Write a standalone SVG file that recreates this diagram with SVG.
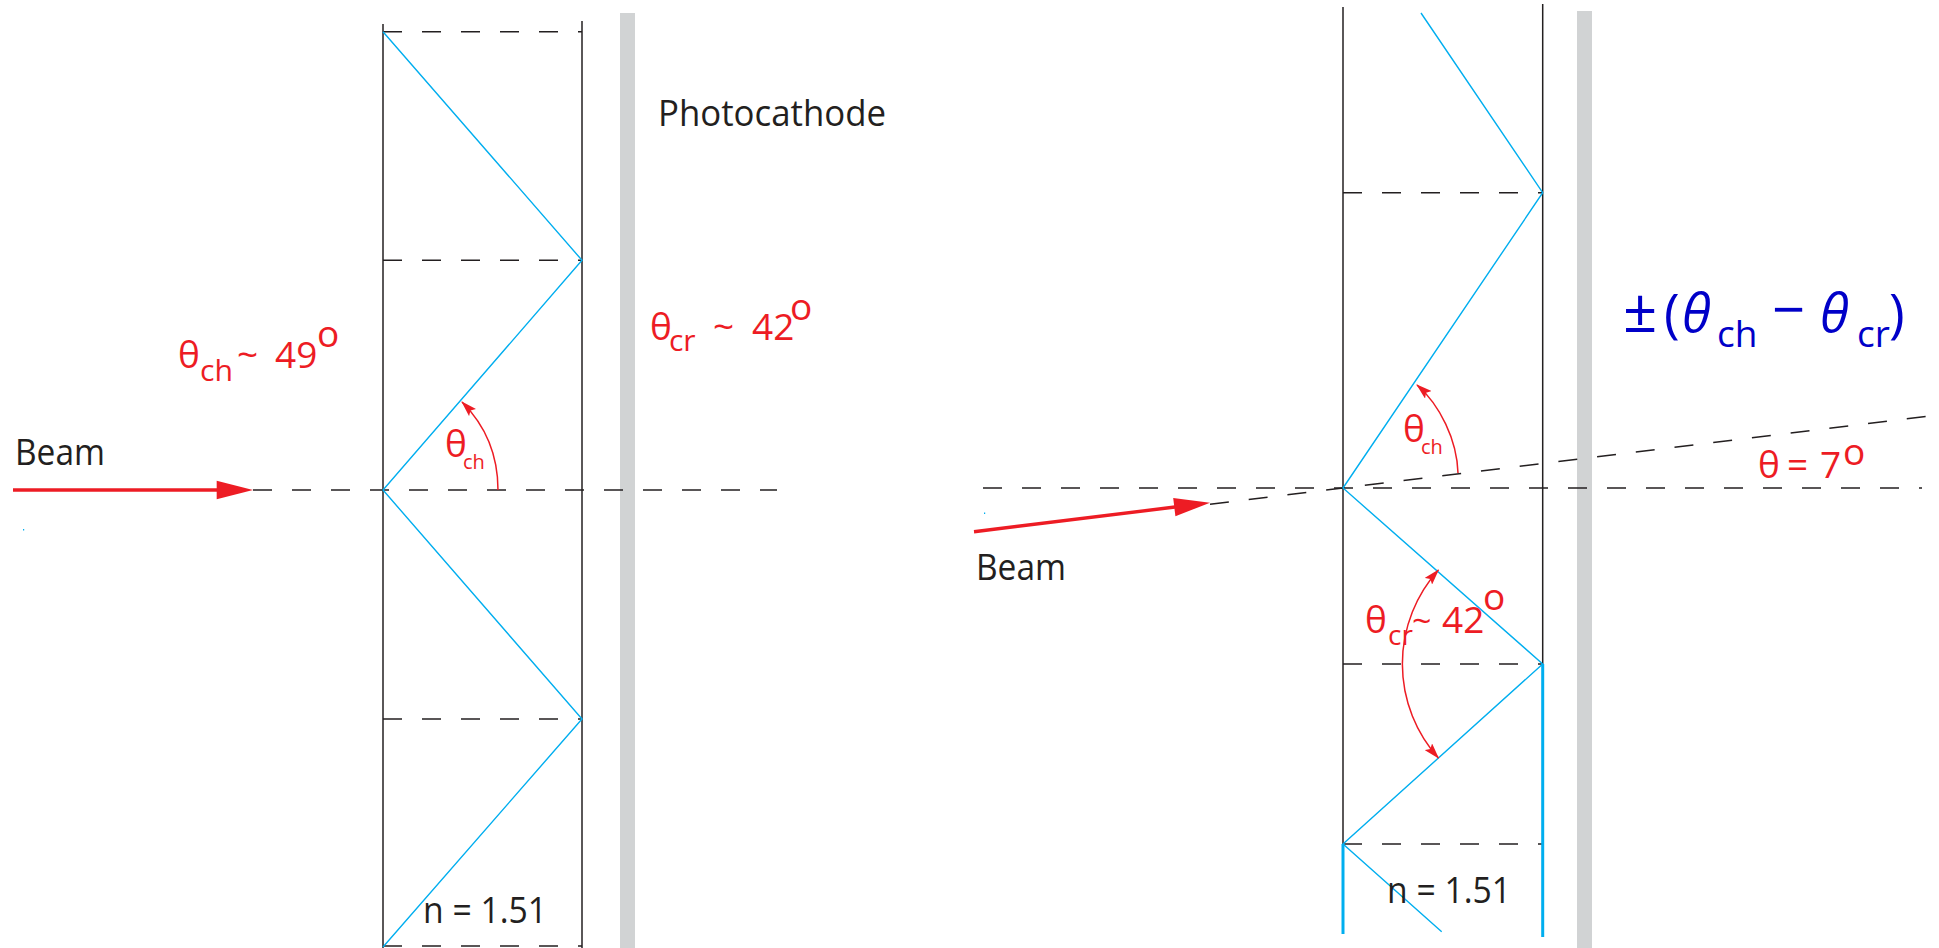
<svg xmlns="http://www.w3.org/2000/svg" width="1939" height="948" viewBox="0 0 1939 948">
<style>
.wall{stroke:#231f20;stroke-width:1.5;fill:none}
.dash{stroke:#231f20;stroke-width:1.5;stroke-dasharray:19 20;fill:none}
.ray{stroke:#00aeef;stroke-width:1.4;fill:none}
.rayt{stroke:#00aeef;stroke-width:3;fill:none}
.pc{fill:#d1d3d4}
.beam{stroke:#ed1c24;stroke-width:3.4;fill:none}
.arc{stroke:#ed1c24;stroke-width:1.5;fill:none}
.txt{font-family:"Open Sans","Noto Sans","DejaVu Sans",sans-serif;font-size:37px;fill:#231f20}
.red{font-family:"Open Sans","Noto Sans","DejaVu Sans",sans-serif;font-size:37px;fill:#ed1c24}
.blue{font-family:"Open Sans","Noto Sans","DejaVu Sans",sans-serif;font-size:53px;fill:#0000c8}
</style>
<defs>
<marker id="ah" viewBox="0 0 16 10" refX="15" refY="5" markerWidth="16" markerHeight="10" markerUnits="userSpaceOnUse" orient="auto-start-reverse">
<path d="M0,0 L16,5 L0,10 L3,5 z" fill="#ed1c24"/>
</marker>
</defs>
<rect width="1939" height="948" fill="#ffffff"/>

<g id="left-panel">
  <rect class="pc" x="620" y="13" width="15" height="935"/>
  <line class="wall" x1="383" y1="24" x2="383" y2="948"/>
  <line class="wall" x1="582" y1="21" x2="582" y2="948"/>
  <line class="dash" x1="383" y1="31.7" x2="582" y2="31.7"/>
  <line class="dash" x1="383" y1="260.3" x2="582" y2="260.3"/>
  <line class="dash" x1="383" y1="719" x2="582" y2="719"/>
  <line class="dash" x1="383" y1="946" x2="582" y2="946"/>
  <line class="dash" x1="253" y1="490" x2="777" y2="490"/>
  <polyline class="ray" points="383,31.7 582,260.3 383,490 582,719 383,947"/>
  <line class="beam" x1="13" y1="490" x2="220" y2="490"/>
  <polygon points="216.7,480.7 253,490 216.7,499.3" fill="#ed1c24"/>
  <path class="arc" d="M498,490 C498,455 485,425 462,402" marker-end="url(#ah)"/>
  <rect x="23" y="529" width="1.2" height="1.5" fill="#00aeef"/>
  <text class="txt" x="15" y="465" textLength="90" lengthAdjust="spacingAndGlyphs">Beam</text>
  <text class="txt" x="658" y="126" textLength="228" lengthAdjust="spacingAndGlyphs">Photocathode</text>
  <text class="txt" x="423" y="923" textLength="124" lengthAdjust="spacingAndGlyphs">n = 1.51</text>
  <text class="red"><tspan x="178" y="368">θ</tspan><tspan x="200" y="381" font-size="30" textLength="33" lengthAdjust="spacingAndGlyphs">ch</tspan><tspan x="237" y="368">~</tspan><tspan x="275" y="368">49</tspan><tspan x="317" y="347">o</tspan></text>
  <text class="red"><tspan x="650" y="340">θ</tspan><tspan x="669" y="351" font-size="30">cr</tspan><tspan x="713" y="340">~</tspan><tspan x="752" y="340">42</tspan><tspan x="790" y="320">o</tspan></text>
  <text class="red" font-size="26"><tspan x="445" y="457">θ</tspan><tspan x="463" y="469" font-size="20">ch</tspan></text>
</g>

<g id="right-panel">
  <rect class="pc" x="1577" y="11" width="15" height="937"/>
  <line class="wall" x1="1343" y1="7" x2="1343" y2="844"/>
  <line class="wall" x1="1542.7" y1="4" x2="1542.7" y2="664"/>
  <line class="dash" x1="1343" y1="192.7" x2="1542.7" y2="192.7"/>
  <line class="dash" x1="1343" y1="664" x2="1542.7" y2="664"/>
  <line class="dash" x1="1343" y1="844" x2="1542.7" y2="844"/>
  <line class="dash" x1="983" y1="488" x2="1922" y2="488"/>
  <line class="dash" x1="1210" y1="504.3" x2="1939" y2="414.8"/>
  <polyline class="ray" points="1421,13 1542.7,192.7 1343,488 1542.7,664 1343,844 1441.7,931.7"/>
  <line class="rayt" x1="1343" y1="844" x2="1343" y2="934"/>
  <line class="rayt" x1="1542.7" y1="664" x2="1542.7" y2="937"/>
  <line class="beam" x1="974" y1="531.7" x2="1177" y2="506.8"/>
  <polygon points="1175.4,516.3 1210,502.7 1173.2,497.9" fill="#ed1c24"/>
  <path class="arc" d="M1458,473 C1457,440 1440,405 1417,385" marker-end="url(#ah)"/>
  <path class="arc" d="M1438.4,570.1 A140.4,140.4 0 0 0 1438.4,757.9" marker-start="url(#ah)" marker-end="url(#ah)"/>
  <rect x="984" y="512.5" width="1.2" height="1.5" fill="#00aeef"/>
  <text class="txt" x="976" y="580" textLength="90" lengthAdjust="spacingAndGlyphs">Beam</text>
  <text class="txt" x="1387" y="903" textLength="124" lengthAdjust="spacingAndGlyphs">n = 1.51</text>
  <text class="red" font-size="26"><tspan x="1403" y="442">θ</tspan><tspan x="1421" y="454" font-size="20">ch</tspan></text>
  <text class="red"><tspan x="1365" y="633">θ</tspan><tspan x="1388" y="645" font-size="28">cr</tspan><tspan x="1412" y="633" font-size="34">~</tspan><tspan x="1442" y="633">42</tspan><tspan x="1483" y="610">o</tspan></text>
  <text class="red"><tspan x="1758" y="478">θ</tspan><tspan x="1787" y="478">=</tspan><tspan x="1820" y="478">7</tspan><tspan x="1843" y="465">o</tspan></text>
  <text class="blue"><tspan x="1623" y="332" font-size="60">±</tspan><tspan x="1664" y="332">(</tspan><tspan x="1682" y="332" font-style="italic">θ</tspan><tspan x="1717" y="347" font-size="37">ch</tspan><tspan x="1772" y="330" font-size="58">−</tspan><tspan x="1820" y="332" font-style="italic">θ</tspan><tspan x="1857" y="347" font-size="37">cr</tspan><tspan x="1889" y="332">)</tspan></text>
</g>
</svg>
